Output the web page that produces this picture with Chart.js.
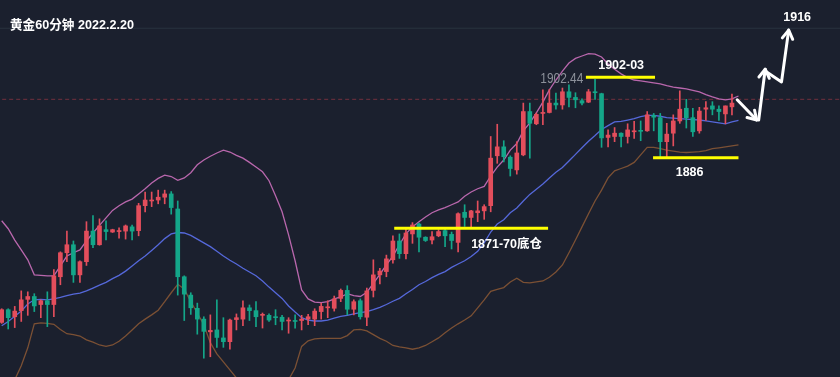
<!DOCTYPE html>
<html><head><meta charset="utf-8">
<script src="https://cdn.jsdelivr.net/npm/chart.js@4.4.1/dist/chart.umd.min.js"></script>
<style>html,body{margin:0;padding:0;background:#1b202e;overflow:hidden}canvas{display:block}</style>
</head><body>
<canvas id="c" width="840" height="377"></canvas>
<script>
// ---------- data (gold, 60-minute candles) ----------
const titleText = "黄金60分钟 2022.2.20";
const opens = [1850.8,1853.5,1852.0,1853.3,1855.7,1856.3,1854.6,1855.4,1854.6,1860.5,
1865.6,1867.3,1860.9,1863.7,1870.2,1867.3,1870.5,1870.0,1870.1,1870.2,
1871.1,1870.3,1875.6,1876.6,1876.8,1877.4,1878.1,1874.9,1860.5,1856.6,
1853.8,1851.5,1848.8,1849.2,1847.5,1846.7,1851.4,1851.5,1853.9,1853.3,
1852.3,1852.3,1852.0,1851.9,1851.1,1851.1,1851.2,1851.5,1851.5,1853.1,
1853.9,1853.8,1855.9,1857.6,1853.6,1855.4,1851.9,1857.6,1860.9,1861.6,
1864.1,1868.1,1865.4,1869.6,1871.7,1868.9,1868.3,1869.2,1870.3,1869.5,
1867.8,1874.2,1873.1,1874.1,1874.5,1875.6,1886.2,1888.1,1885.9,1883.2,
1886.4,1895.6,1893.0,1895.2,1895.4,1897.4,1897.0,1899.8,1898.6,1897.9,
1897.6,1899.8,1899.4,1890.1,1890.3,1891.0,1890.3,1891.3,1891.6,1891.5,
1894.8,1894.3,1889.2,1891.0,1893.6,1896.3,1894.3,1891.5,1896.1,1896.8,
1896.1,1895.1,1896.6];
const highs = [1853.7,1853.7,1854.2,1857.5,1857.3,1856.9,1855.6,1857.3,1862.0,1865.8,
1870.2,1868.1,1863.9,1872.2,1873.5,1872.8,1872.4,1870.6,1870.9,1871.5,
1871.5,1876.1,1878.5,1878.5,1878.9,1878.9,1878.6,1876.6,1860.7,1857.1,
1854.9,1852.0,1852.4,1855.6,1851.8,1851.5,1852.6,1855.4,1854.5,1855.2,
1852.8,1852.6,1853.5,1852.3,1851.8,1852.4,1852.3,1852.5,1853.7,1854.9,
1855.4,1856.4,1857.9,1858.6,1855.6,1855.8,1858.1,1864.1,1862.3,1865.1,
1869.2,1869.6,1870.6,1872.0,1871.9,1869.0,1870.1,1870.5,1870.6,1870.0,
1874.1,1875.8,1874.6,1876.6,1875.8,1890.3,1892.9,1889.4,1886.2,1889.2,
1897.4,1897.4,1895.3,1900.2,1900.3,1899.5,1900.6,1901.3,1899.6,1898.3,
1900.3,1902.44,1899.5,1891.7,1892.2,1891.1,1893.0,1893.5,1893.6,1895.6,
1895.2,1895.2,1893.1,1894.9,1900.0,1898.2,1896.3,1896.5,1897.7,1897.7,
1896.8,1896.8,1899.3];
const lows = [1850.6,1849.4,1849.7,1851.0,1852.3,1853.1,1851.8,1849.9,1852.0,1858.8,
1863.7,1859.3,1859.3,1862.9,1866.7,1867.2,1868.3,1869.9,1868.7,1868.5,
1868.3,1869.2,1874.3,1875.4,1876.0,1876.0,1873.8,1856.6,1851.2,1852.5,
1848.3,1843.2,1843.5,1845.5,1845.5,1845.1,1849.2,1850.1,1851.2,1849.9,
1849.6,1851.0,1850.3,1849.2,1848.5,1849.6,1849.2,1850.3,1850.1,1851.5,
1851.8,1853.2,1855.2,1852.4,1852.4,1851.5,1850.1,1856.2,1859.0,1860.5,
1863.4,1864.4,1864.3,1867.6,1865.8,1868.0,1867.5,1869.0,1866.9,1866.4,
1865.8,1871.2,1870.8,1872.2,1872.7,1874.3,1884.6,1884.9,1881.9,1882.3,
1886.2,1885.7,1892.8,1892.8,1895.3,1896.1,1896.1,1896.6,1896.4,1897.0,
1897.5,1898.2,1888.0,1888.1,1889.2,1888.1,1888.9,1889.9,1889.4,1891.4,
1891.5,1886.0,1886.0,1888.3,1893.1,1892.1,1890.3,1891.0,1893.7,1894.9,
1893.7,1893.0,1894.9];
const closes = [1853.5,1851.8,1853.2,1855.6,1856.3,1854.3,1855.4,1854.6,1860.7,1865.6,
1867.3,1860.9,1863.7,1870.2,1867.3,1871.3,1870.1,1870.5,1870.3,1871.3,
1870.2,1875.6,1876.8,1876.8,1877.4,1878.1,1875.2,1860.5,1856.8,1853.9,
1851.5,1848.9,1849.1,1847.6,1846.7,1851.3,1851.8,1853.9,1853.3,1852.0,
1852.5,1851.3,1851.8,1851.0,1851.3,1851.0,1851.5,1852.0,1853.2,1854.2,
1854.1,1855.8,1857.6,1853.6,1855.2,1852.0,1857.5,1860.9,1861.7,1864.3,
1868.1,1865.4,1869.8,1871.5,1868.9,1868.2,1869.0,1870.1,1869.2,1868.2,
1873.9,1873.1,1874.5,1874.5,1875.4,1885.7,1888.1,1886.0,1883.5,1886.8,
1895.6,1893.1,1895.0,1895.3,1897.4,1897.0,1899.8,1898.6,1898.1,1897.4,
1899.8,1899.6,1890.0,1890.6,1891.0,1890.3,1891.7,1891.4,1891.4,1894.9,
1894.4,1889.2,1890.8,1893.6,1896.1,1894.3,1891.3,1895.7,1896.4,1896.1,
1895.6,1896.8,1897.4];
// Bollinger bands, one point per candle slot
const upperBand = [1872.4,1870.7,1868.3,1866.2,1864.1,1860.9,1860.8,1860.7,1860.7,1862.8,
1864.9,1865.6,1866.2,1868.1,1869.8,1871.4,1873.0,1874.6,1875.6,1876.4,
1877.0,1878.1,1879.2,1880.4,1881.4,1882.1,1881.8,1881.0,1881.5,1882.6,
1884.3,1885.3,1886.1,1886.8,1887.4,1887.0,1886.3,1885.7,1884.8,1883.8,
1882.8,1880.9,1877.7,1874.3,1869.4,1863.9,1857.7,1855.8,1855.1,1855.0,
1855.2,1855.8,1856.2,1856.9,1856.5,1856.3,1857.2,1859.1,1861.0,1863.0,
1864.9,1867.3,1869.6,1871.1,1872.2,1873.2,1874.1,1874.7,1875.2,1875.8,
1876.4,1877.6,1878.5,1879.2,1879.7,1881.9,1883.8,1885.3,1887.4,1888.8,
1891.5,1893.2,1895.3,1897.6,1900.2,1902.3,1904.2,1905.9,1906.9,1907.4,
1907.9,1907.8,1907.2,1905.7,1904.6,1903.6,1902.8,1902.3,1902.1,1901.9,
1901.7,1901.5,1901.1,1900.8,1900.6,1900.4,1900.1,1899.8,1899.2,1898.7,
1898.3,1898.1,1898.3,1898.9];
const middleBand = [1850.1,1851.0,1852.1,1853.2,1854.7,1855.6,1855.7,1855.6,1855.8,1856.1,
1856.5,1856.8,1857.0,1857.5,1858.1,1858.7,1859.3,1860.1,1860.8,1861.7,
1862.8,1863.9,1864.9,1866.1,1867.3,1868.6,1869.6,1869.9,1869.8,1869.3,
1868.5,1867.7,1866.9,1865.9,1864.9,1864.0,1863.2,1862.3,1861.5,1860.7,
1859.6,1858.3,1857.1,1855.9,1854.3,1853.0,1851.8,1851.3,1851.1,1851.1,
1851.3,1851.7,1852.1,1852.3,1852.6,1852.9,1853.1,1853.5,1854.0,1854.6,
1855.3,1855.9,1856.9,1857.8,1858.8,1859.5,1860.3,1861.0,1861.6,1862.5,
1863.2,1863.9,1864.8,1865.9,1867.7,1870.0,1871.7,1872.6,1874.1,1875.1,
1876.6,1878.0,1879.1,1880.2,1881.5,1882.7,1883.7,1885.1,1886.5,1887.9,
1889.3,1890.5,1891.8,1892.6,1893.4,1893.5,1893.8,1894.1,1894.5,1894.8,
1894.8,1894.6,1894.3,1894.2,1894.1,1894.0,1893.9,1893.8,1893.6,1893.4,
1893.2,1893.0,1893.4,1893.7];
const lowerBand = [1830.1,1834.3,1838.6,1841.6,1845.4,1850.5,1850.7,1850.6,1850.4,1849.3,
1848.4,1848.2,1847.9,1847.1,1846.6,1846.0,1845.7,1846.0,1846.8,1847.9,
1849.2,1850.5,1851.5,1852.4,1853.4,1855.2,1857.1,1858.9,1857.9,1855.2,
1852.8,1850.3,1846.5,1844.1,1842.4,1840.7,1839.0,1836.9,1835.4,1834.3,
1833.3,1833.3,1834.3,1836.0,1838.6,1841.1,1845.7,1846.9,1847.3,1847.4,
1847.4,1847.4,1847.4,1848.0,1849.2,1849.3,1849.0,1848.2,1847.4,1846.8,
1845.9,1845.6,1845.4,1845.1,1845.4,1845.9,1846.7,1847.5,1848.6,1849.6,
1850.5,1851.3,1852.2,1853.9,1855.6,1857.4,1857.8,1858.2,1859.4,1860.2,
1859.3,1859.2,1859.4,1859.6,1860.4,1861.5,1863.0,1865.6,1868.3,1871.1,
1873.9,1876.6,1878.9,1881.5,1883.0,1883.5,1884.0,1884.8,1886.4,1888.0,
1888.0,1887.7,1887.4,1887.2,1887.0,1886.9,1887.0,1887.1,1887.3,1887.7,
1887.9,1888.1,1888.3,1888.5];
const lastPrice = 1898.2;
const frameTop = 1913.3;
// marked levels: [startSlot, endSlot, price]
const level1902 = [89.6, 100.2, 1902.9];
const level1886 = [99.9, 113.0, 1885.8];
const level1871 = [60.2, 83.8, 1870.8];
// hand-drawn forecast path (slot, price)
const arrowA = [[112.8, 1898.1], [115.8, 1893.8]];
const arrowB = [[116.1, 1893.8], [117.1, 1904.6]];
const arrowC = [[117.1, 1904.2], [119.6, 1901.9], [120.7, 1912.9]];

// ---------- styling ----------
const RED = '#e34e5c', GREEN = '#14a689';
const candleColor = c => (closes[c.dataIndex] >= opens[c.dataIndex] ? RED : GREEN);
const pts = arr => arr.map((v, i) => ({x: i, y: v}));
const seg = l => [{x: l[0], y: l[2]}, {x: l[1], y: l[2]}];
const pp = a => a.map(p => ({x: p[0], y: p[1]}));
const lineDs = (data, color, width, order, extra) => Object.assign({
  type: 'line', data, borderColor: color, borderWidth: width, pointRadius: 0,
  tension: 0, order, fill: false
}, extra || {});

const notes = [
  {text: '1902.44', x: 89.2, y: 1902.5, align: 'right', font: "14px 'Liberation Sans', sans-serif", color: '#8c909a', maxW: 43},
  {text: '1902-03', x: 95.0, y: 1905.4, align: 'center', font: "bold 12.5px 'Liberation Sans', 'Noto Sans CJK SC', sans-serif", color: '#ffffff'},
  {text: '1886', x: 105.5, y: 1882.7, align: 'center', font: "bold 12.5px 'Liberation Sans', 'Noto Sans CJK SC', sans-serif", color: '#ffffff'},
  {text: '1871-70底仓', x: 72.0, y: 1867.3, align: 'left', font: "bold 12.5px 'Liberation Sans', 'Noto Sans CJK SC', sans-serif", color: '#ffffff'},
  {text: '1916', x: 122.0, y: 1915.5, align: 'center', font: "bold 12.5px 'Liberation Sans', 'Noto Sans CJK SC', sans-serif", color: '#ffffff'}
];

const bgPlugin = {
  id: 'bg',
  beforeDraw(chart) {
    const {ctx, width, height} = chart;
    ctx.save(); ctx.fillStyle = '#1b202e'; ctx.fillRect(0, 0, width, height); ctx.restore();
  }
};
const arrowPlugin = {
  id: 'arrowHeads',
  afterDatasetsDraw(chart) {
    const ctx = chart.ctx;
    chart.data.datasets.forEach((ds, di) => {
      if (!ds.arrowHead) return;
      const el = chart.getDatasetMeta(di).data;
      const a = el[el.length - 2], b = el[el.length - 1];
      const ang = Math.atan2(b.y - a.y, b.x - a.x);
      const L = 10, s = 0.55;
      ctx.save();
      ctx.strokeStyle = '#ffffff'; ctx.lineWidth = 3; ctx.lineCap = 'round'; ctx.lineJoin = 'round';
      ctx.beginPath();
      ctx.moveTo(b.x - L * Math.cos(ang - s), b.y - L * Math.sin(ang - s));
      ctx.lineTo(b.x, b.y);
      ctx.lineTo(b.x - L * Math.cos(ang + s), b.y - L * Math.sin(ang + s));
      ctx.stroke();
      ctx.restore();
    });
  }
};
const textPlugin = {
  id: 'texts',
  afterDraw(chart) {
    const ctx = chart.ctx, xs = chart.scales.x, ys = chart.scales.y;
    ctx.save();
    ctx.textBaseline = 'middle';
    ctx.fillStyle = '#ffffff';
    ctx.textAlign = 'left';
    ctx.font = "bold 13px 'Liberation Sans', 'Noto Sans CJK SC', sans-serif";
    ctx.fillText(titleText, 10, 25, 124);
    notes.forEach(n => {
      ctx.font = n.font; ctx.fillStyle = n.color; ctx.textAlign = n.align;
      const px = xs.getPixelForValue(n.x), py = ys.getPixelForValue(n.y);
      if (n.maxW) ctx.fillText(n.text, px, py, n.maxW); else ctx.fillText(n.text, px, py);
    });
    ctx.restore();
  }
};

new Chart(document.getElementById('c'), {
  type: 'bar',
  data: {
    datasets: [
      {type: 'bar', label: 'wick', data: opens.map((o, i) => ({x: i, y: [lows[i], highs[i]]})),
       backgroundColor: candleColor, barThickness: 1, grouped: false, borderWidth: 0, order: 3},
      {type: 'bar', label: 'body', data: opens.map((o, i) => ({x: i, y: [o, closes[i]]})),
       backgroundColor: candleColor, barThickness: 4, minBarLength: 1, grouped: false, borderWidth: 0, order: 2},
      lineDs(pts(upperBand), '#b967ad', 1.3, 5),
      lineDs(pts(middleBand), '#5568da', 1.3, 5),
      lineDs(pts(lowerBand), '#7b5034', 1.3, 5),
      lineDs([{x: -1, y: lastPrice}, {x: 130, y: lastPrice}], '#72303e', 1, 7, {borderDash: [4, 3]}),
      lineDs([{x: -1, y: frameTop}, {x: 130, y: frameTop}], '#29333f', 1, 7),
      lineDs(seg(level1902), '#ffff00', 3, 1),
      lineDs(seg(level1886), '#ffff00', 3, 1),
      lineDs(seg(level1871), '#ffff00', 3, 1),
      lineDs(pp(arrowA), '#ffffff', 3, 0, {arrowHead: true, borderCapStyle: 'round'}),
      lineDs(pp(arrowB), '#ffffff', 3, 0, {arrowHead: true, borderCapStyle: 'round'}),
      lineDs(pp(arrowC), '#ffffff', 3, 0, {arrowHead: true, borderCapStyle: 'round', borderJoinStyle: 'round'})
    ]
  },
  options: {
    responsive: false, animation: false, devicePixelRatio: 1,
    layout: {padding: 0},
    plugins: {legend: {display: false}, tooltip: {enabled: false}, title: {display: false}},
    scales: {
      x: {type: 'linear', min: -0.26, max: 128.57, offset: false, display: false},
      y: {type: 'linear', min: 1839.2, max: 1919.3, display: false}
    }
  },
  plugins: [bgPlugin, arrowPlugin, textPlugin]
});
</script>
</body></html>
